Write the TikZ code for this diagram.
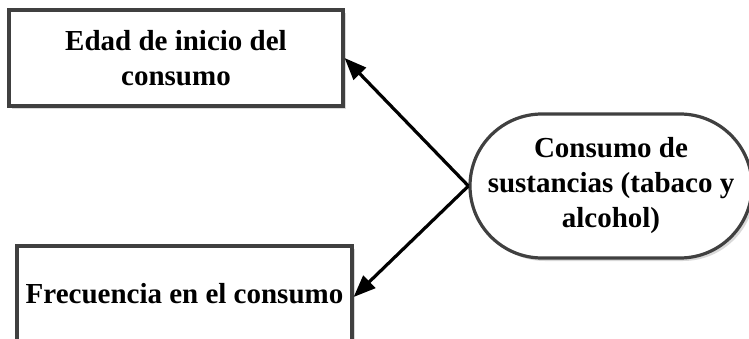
\documentclass[tikz,border=0pt]{standalone}
\usepackage{fontspec}
\setmainfont{Liberation Serif}
\usetikzlibrary{shadows,arrows.meta}
\begin{document}
\begin{tikzpicture}[x=1pt,y=-1pt,
  boxstyle/.style={draw=black!75,line width=3.2pt,fill=white,
    drop shadow={shadow xshift=3pt,shadow yshift=-3pt,fill=black!15,opacity=1},
    font=\fontsize{29}{35}\selectfont\bfseries,align=center,inner sep=0pt},
  link/.style={line width=3.2pt,-{Triangle[length=22pt,width=17pt]}}]
\useasboundingbox (0,0) rectangle (749,339);
\node[boxstyle,minimum width=334pt,minimum height=96pt] (edad) at (176,58) {Edad de inicio del\\consumo};
\node[boxstyle,minimum width=335pt,minimum height=96pt] (frec) at (184.5,294) {Frecuencia en el consumo};
\node[boxstyle,rounded corners=72pt,minimum width=282pt,minimum height=144pt] (cons) at (611,186) {Consumo de\\sustancias (tabaco y\\alcohol)};
\draw[link] (cons.west) -- (edad.east);
\draw[link] (cons.west) -- ([yshift=-3pt]frec.east);
\end{tikzpicture}
\end{document}
